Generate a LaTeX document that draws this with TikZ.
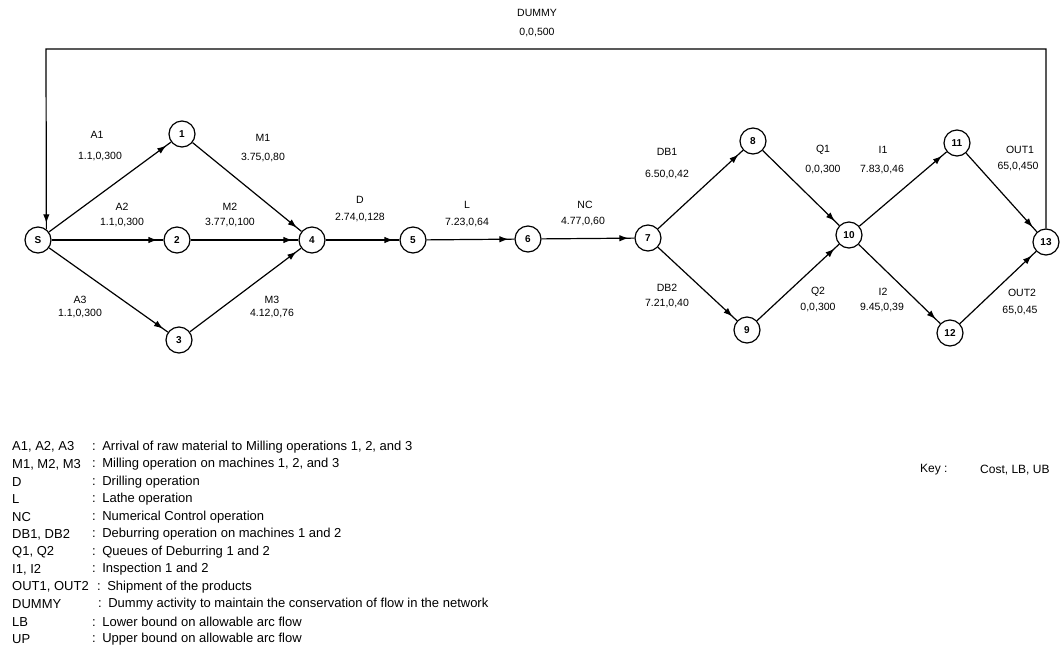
\documentclass[tikz,border=0pt]{standalone}
\usepackage{fontspec}
\setmainfont{Liberation Sans}
\usetikzlibrary{arrows.meta,decorations.markings}
\begin{document}
\begin{tikzpicture}[x=1pt,y=-1pt,
  state/.style={circle,draw,line width=1.2pt,minimum size=26pt,inner sep=0pt,font=\fontsize{10}{10}\selectfont\bfseries},
  lbl/.style={font=\fontsize{10.5}{11}\selectfont,inner sep=0pt},
  flow/.style={line width=1.2pt,postaction={decorate},decoration={markings,mark=at position -6pt with {\arrow{Latex[length=9pt,width=6.5pt]}}}},
  leg/.style={font=\fontsize{13}{14}\selectfont,anchor=west,inner sep=0pt}]
\fill[white] (0,0) rectangle (1061,654);
\useasboundingbox (0,0) rectangle (1061,654);

% nodes
\node[state] (S) at (38,240) {S};
\node[state] (n1) at (182,134) {1};
\node[state] (n2) at (177,240) {2};
\node[state] (n3) at (179,340) {3};
\node[state] (n4) at (312,240) {4};
\node[state] (n5) at (413,240) {5};
\node[state] (n6) at (528,239) {6};
\node[state] (n7) at (648,238) {7};
\node[state] (n8) at (753,141) {8};
\node[state] (n9) at (747,330) {9};
\node[state] (n10) at (849,235) {10};
\node[state] (n11) at (957,143) {11};
\node[state] (n12) at (950,333) {12};
\node[state] (n13) at (1046,242) {13};

% edges
\draw[flow] (S) -- (n1);
\draw[flow] (S) -- (n2);
\draw[flow] (S) -- (n3);
\draw[flow] (n1) -- (n4);
\draw[flow] (n2) -- (n4);
\draw[flow] (n3) -- (n4);
\draw[flow] (n4) -- (n5);
\draw[flow] (n5) -- (n6);
\draw[flow] (n6) -- (n7);
\draw[flow] (n7) -- (n8);
\draw[flow] (n7) -- (n9);
\draw[flow] (n8) -- (n10);
\draw[flow] (n9) -- (n10);
\draw[flow] (n10) -- (n11);
\draw[flow] (n10) -- (n12);
\draw[flow] (n11) -- (n13);
\draw[flow] (n12) -- (n13);
\coordinate (dL) at (46,49);
\draw[flow] (n13.north) |- (dL) -- (S.52);

% labels
\node[lbl] (tA1) at (97,135) {A1};
\node[lbl] (vA1) at (100,157) {1.1,0,300};
\node[lbl] (tM1) at (263,138) {M1};
\node[lbl] (vM1) at (263,158) {3.75,0,80};
\node[lbl] (tA2) at (122,207) {A2};
\node[lbl] (vA2) at (122,223) {1.1,0,300};
\node[lbl] (tM2) at (230,207) {M2};
\node[lbl] (vM2) at (230,223) {3.77,0,100};
\node[lbl] (tA3) at (80,300) {A3};
\node[lbl] (vA3) at (80,313) {1.1,0,300};
\node[lbl] (tM3) at (272,300) {M3};
\node[lbl] (vM3) at (272,313) {4.12,0,76};
\node[lbl] (tD) at (360,200) {D};
\node[lbl] (vD) at (360,218) {2.74,0,128};
\node[lbl] (tL) at (467,205) {L};
\node[lbl] (vL) at (467,223) {7.23,0,64};
\node[lbl] (tNC) at (585,205) {NC};
\node[lbl] (vNC) at (583,222) {4.77,0,60};
\node[lbl] (tDB1) at (667,152) {DB1};
\node[lbl] (vDB1) at (667,175) {6.50,0,42};
\node[lbl] (tDB2) at (667,288) {DB2};
\node[lbl] (vDB2) at (667,303) {7.21,0,40};
\node[lbl] (tQ1) at (823,150) {Q1};
\node[lbl] (vQ1) at (823,170) {0,0,300};
\node[lbl] (tI1) at (883,150) {I1};
\node[lbl] (vI1) at (882,170) {7.83,0,46};
\node[lbl] (tO1) at (1020,150) {OUT1};
\node[lbl] (vO1) at (1018,167) {65,0,450};
\node[lbl] (tQ2) at (818,292) {Q2};
\node[lbl] (vQ2) at (818,307) {0,0,300};
\node[lbl] (tI2) at (883,292) {I2};
\node[lbl] (vI2) at (882,308) {9.45,0,39};
\node[lbl] (tO2) at (1022,293) {OUT2};
\node[lbl] (vO2) at (1020,310) {65,0,45};
\node[lbl] (tDu) at (537,13) {DUMMY};
\node[lbl] (vDu) at (537,33) {0,0,500};

% legend
\node[leg] (k1) at (12,447) {A1, A2, A3};
\node[leg] (c1) at (92,447) {:\enspace Arrival of raw material to Milling operations 1, 2, and 3};
\node[leg] (k2) at (12,464.5) {M1, M2, M3};
\node[leg] (c2) at (92,464.5) {:\enspace Milling operation on machines 1, 2, and 3};
\node[leg] (k3) at (12,482) {D};
\node[leg] (c3) at (92,482) {:\enspace Drilling operation};
\node[leg] (k4) at (12,499.5) {L};
\node[leg] (c4) at (92,499.5) {:\enspace Lathe operation};
\node[leg] (k5) at (12,517) {NC};
\node[leg] (c5) at (92,517) {:\enspace Numerical Control operation};
\node[leg] (k6) at (12,534.5) {DB1, DB2};
\node[leg] (c6) at (92,534.5) {:\enspace Deburring operation on machines 1 and 2};
\node[leg] (k7) at (12,552) {Q1, Q2};
\node[leg] (c7) at (92,552) {:\enspace Queues of Deburring 1 and 2};
\node[leg] (k8) at (12,569.5) {I1, I2};
\node[leg] (c8) at (92,569.5) {:\enspace Inspection 1 and 2};
\node[leg] (k9) at (12,587) {OUT1, OUT2};
\node[leg] (c9) at (97,587) {:\enspace Shipment of the products};
\node[leg] (k10) at (12,604.5) {DUMMY};
\node[leg] (c10) at (98,604.5) {:\enspace Dummy activity to maintain the conservation of flow in the network};
\node[leg] (k11) at (12,622) {LB};
\node[leg] (c11) at (92,622) {:\enspace Lower bound on allowable arc flow};
\node[leg] (k12) at (12,639.5) {UP};
\node[leg] (c12) at (92,639.5) {:\enspace Upper bound on allowable arc flow};

\node[leg,font=\fontsize{12}{13}\selectfont] (key) at (920,470) {Key :};
\node[leg,font=\fontsize{12}{13}\selectfont] (keyv) at (980,470) {Cost, LB, UB};
\end{tikzpicture}
\end{document}
